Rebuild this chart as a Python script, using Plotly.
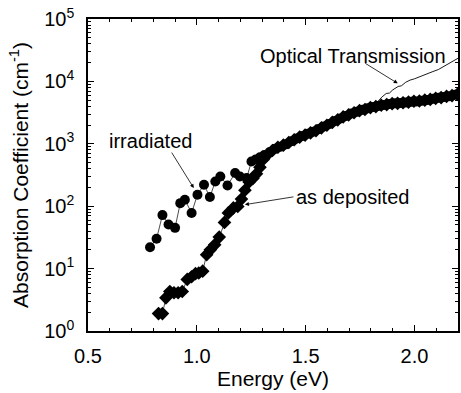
import plotly.graph_objects as go
import math

# ---------------- data ----------------
irr_x = [0.785, 0.815, 0.842, 0.870, 0.900, 0.924, 0.945, 0.976, 1.003, 1.033,
         1.060, 1.085, 1.108, 1.141, 1.176, 1.198, 1.229, 1.251, 1.270, 1.290,
         1.310, 1.335, 1.360, 1.385, 1.410, 1.435, 1.460, 1.485, 1.510, 1.535,
         1.560, 1.585, 1.610, 1.635, 1.660, 1.685, 1.710, 1.735, 1.760, 1.785,
         1.810, 1.835, 1.860, 1.885, 1.910, 1.935, 1.960, 1.985, 2.010, 2.035,
         2.060, 2.085, 2.110, 2.135, 2.160, 2.185, 2.200]
irr_y = [22, 30, 72, 51, 45, 112, 127, 78, 153, 221,
         140, 249, 300, 215, 340, 300, 283, 520, 560, 610,
         660, 740, 830, 900, 980, 1100, 1220, 1330, 1450, 1560,
         1720, 1900, 2080, 2330, 2550, 2800, 3050, 3250, 3500, 3700,
         3900, 4050, 4200, 4350, 4450, 4500, 4600, 4700, 4750, 4900,
         5050, 5250, 5450, 5600, 5800, 6100, 6200]

dep_x = [0.824, 0.842, 0.858, 0.876, 0.895, 0.914, 0.933, 0.956, 0.976, 0.994,
         1.009, 1.027, 1.045, 1.062, 1.082, 1.103, 1.127, 1.145, 1.168, 1.188,
         1.205, 1.221, 1.240, 1.258, 1.274, 1.290, 1.305, 1.3225, 1.3475, 1.3725,
         1.3975, 1.4225, 1.4475, 1.4725, 1.4975, 1.5225, 1.5475, 1.5725, 1.5975, 1.6225,
         1.6475, 1.6725, 1.6975, 1.7225, 1.7475, 1.7725, 1.7975, 1.8225, 1.8475, 1.8725,
         1.8975, 1.9225, 1.9475, 1.9725, 1.9975, 2.0225, 2.0475, 2.0725, 2.0975, 2.1225,
         2.1475, 2.1725, 2.1975]
dep_y = [1.9, 1.9, 3.4, 4.3, 4.1, 4.1, 4.3, 6.7, 7.4, 8.3,
         8.5, 9.1, 16.7, 20, 24, 32, 55, 78, 94, 99,
         130, 180, 245, 280, 330, 420, 560, 660, 780, 880,
         950, 1050, 1160, 1280, 1380, 1500, 1620, 1800, 1980, 2200,
         2420, 2700, 2900, 3150, 3400, 3550, 3800, 3950, 4150, 4250,
         4400, 4450, 4550, 4650, 4800, 4850, 5000, 5150, 5350, 5500,
         5750, 5900, 6200]

opt_x = [1.80, 1.82, 1.835, 1.85, 1.87, 1.885, 1.90, 1.925, 1.94, 1.96,
         1.98, 2.00, 2.025, 2.05, 2.085, 2.11, 2.145, 2.17, 2.20]
opt_y = [3900, 4400, 4900, 5600, 6400, 6500, 7300, 8300, 8500, 9700,
         10500, 11000, 12000, 13000, 14400, 15500, 18300, 20500, 23500]

y_tickvals = [1, 10, 100, 1000, 10000, 100000]
y_ticktext = ["10<sup>0</sup>", "10<sup>1</sup>", "10<sup>2</sup>",
              "10<sup>3</sup>", "10<sup>4</sup>", "10<sup>5</sup>"]
x_tickvals = [0.5, 1.0, 1.5, 2.0]
x_ticktext = ["0.5", "1.0", "1.5", "2.0"]
x_minor = [0.6, 0.7, 0.8, 0.9, 1.1, 1.2, 1.3, 1.4, 1.6, 1.7, 1.8, 1.9, 2.1]
y_minor = [m * 10 ** k for k in range(0, 5) for m in range(2, 10)]

FONT = "Liberation Sans, Arial, Helvetica, sans-serif"

fig = go.Figure()
fig.add_trace(go.Scatter(x=opt_x, y=opt_y, mode="lines",
                         line=dict(color="black", width=0.9), showlegend=False))
fig.add_trace(go.Scatter(x=irr_x, y=irr_y, mode="lines+markers",
                         line=dict(color="black", width=0.7),
                         marker=dict(symbol="circle", size=10, color="black"),
                         showlegend=False))
fig.add_trace(go.Scatter(x=dep_x, y=dep_y, mode="lines+markers",
                         line=dict(color="black", width=0.7),
                         marker=dict(symbol="diamond", size=10.5, color="black"),
                         showlegend=False))

L = math.log10
annots = [
    dict(x=0.786, y=L(1120), text="irradiated", showarrow=False),
    dict(x=0.986, y=L(195), text="", showarrow=True, ax=-23, ay=-37),
    dict(x=1.714, y=L(142), text="as deposited", showarrow=False),
    dict(x=1.221, y=L(106), text="", showarrow=True, ax=50, ay=-8),
    dict(x=1.716, y=L(25600), text="Optical Transmission", showarrow=False),
    dict(x=1.923, y=L(9300), text="", showarrow=True, ax=-34, ay=-21),
]
for a in annots:
    fig.add_annotation(xref="x", yref="y", font=dict(family=FONT, size=20, color="black"),
                       arrowhead=2, arrowsize=1, arrowwidth=0.8, arrowcolor="black",
                       **a)

axis_common = dict(showline=True, linecolor="black", linewidth=1.6, mirror="ticks",
                   ticks="inside", tickcolor="black", tickwidth=1.2, ticklen=6,
                   showgrid=False, zeroline=False,
                   tickfont=dict(family=FONT, size=20, color="black"))

fig.update_xaxes(range=[0.5, 2.2], tickvals=x_tickvals, ticktext=x_ticktext,
                 minor=dict(tickvals=x_minor, ticks="inside", ticklen=3, tickwidth=1,
                            tickcolor="black", showgrid=False),
                 title=dict(text="Energy (eV)", font=dict(family=FONT, size=21, color="black"),
                            standoff=3),
                 ticklabelstandoff=6,
                 **axis_common)
fig.update_yaxes(type="log", range=[0, 5], tickvals=y_tickvals, ticktext=y_ticktext,
                 minor=dict(tickvals=y_minor, ticks="inside", ticklen=3, tickwidth=1,
                            tickcolor="black", showgrid=False),
                 title=dict(text="Absorption Coefficient (cm<sup>-1</sup>)",
                            font=dict(family=FONT, size=21, color="black"), standoff=10),
                 ticklabelstandoff=8,
                 **axis_common)

fig.update_layout(width=461, height=393, margin=dict(l=88, r=1, t=19, b=62),
                  paper_bgcolor="white", plot_bgcolor="white",
                  font=dict(family=FONT, color="black"))

fig.write_html("out.html")
